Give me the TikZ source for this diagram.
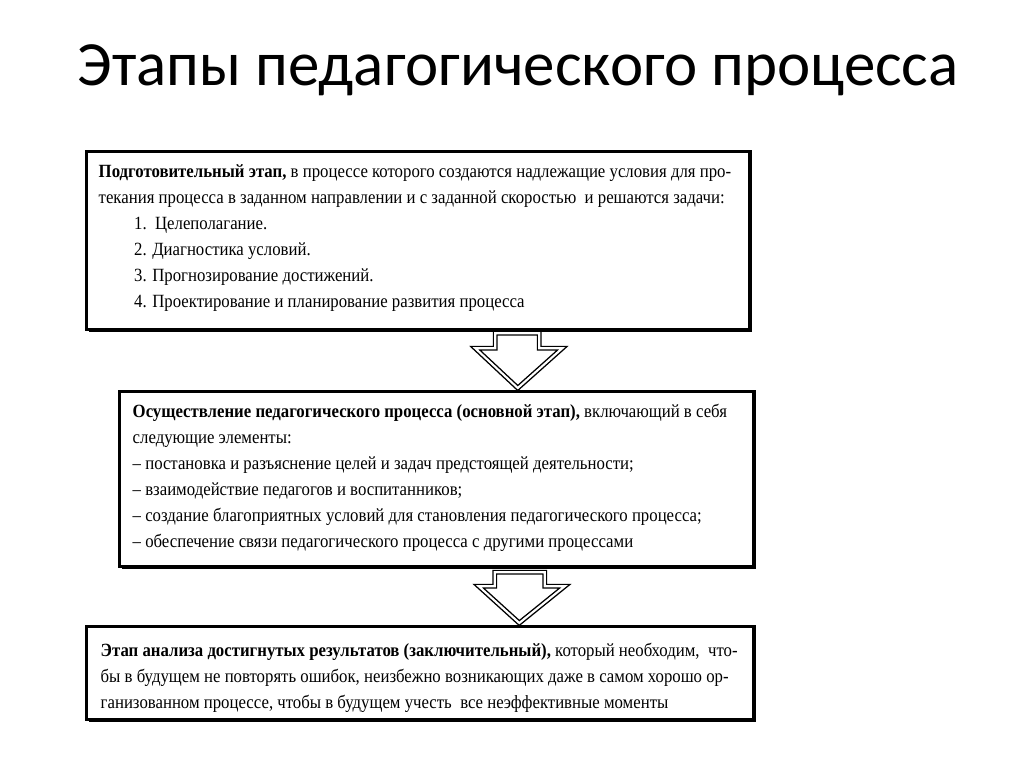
\documentclass[tikz,border=0pt]{standalone}
\usepackage{fontspec}
\setmainfont[FakeStretch=0.9]{Liberation Serif}
\newfontfamily\titlefont{Carlito}
\usetikzlibrary{positioning,calc}
\tikzset{
  stage/.style  = {draw, line width=0.9pt, rectangle, inner sep=0pt},
  shade/.style  = {fill=black},
  body/.style   = {anchor=north west, align=left, inner sep=0pt,
                   font=\fontsize{5.3pt}{7.4pt}\selectfont},
  flow/.style   = {draw, double, double distance=0.6pt, line width=0.4pt, fill=white}
}
\begin{document}
\begin{tikzpicture}[x=0.01cm,y=-0.01cm]
\useasboundingbox (0,0) rectangle (1024,767);

% titel
\node[font=\titlefont\fontsize{17.9pt}{20pt}\selectfont] (title) at (518,70) {Этапы педагогического процесса};

% schaduwen en kaders
\fill[shade] (89,154) rectangle (752,332);
\fill[shade] (122,394) rectangle (756,569);
\fill[shade] (89,629) rectangle (756,722);
\node[stage, fill=white, minimum width=6.63cm, minimum height=1.78cm, anchor=north west] (b1) at (85,150) {};
\node[stage, fill=white, minimum width=6.34cm, minimum height=1.75cm, anchor=north west] (b2) at (118,390) {};
\node[stage, fill=white, minimum width=6.67cm, minimum height=0.93cm, anchor=north west] (b3) at (85,625) {};

% pijlen tussen de kaders
\draw[flow] ($(b1.south)+(77,2)$) -- ++(0,15) -- ++(-20,0) -- ($(b2.north)+(81,-2)$)
  -- ($(b1.south)+(144,17)$) -- ++(-23,0) -- ++(0,-15) -- cycle;
\draw[flow] ($(b2.south)+(58,4)$) -- ++(0,14) -- ++(-16,0) -- ($(b3.north)+(99,-2)$)
  -- ($(b2.south)+(128,18)$) -- ++(-20,0) -- ++(0,-14) -- cycle;

% teksten
\node[body] (t1) at (98,164) {\textbf{Подготовительный этап,} в процессе которого создаются надлежащие условия для про-\\
текания процесса в заданном направлении и с заданной скоростью \ и решаются задачи:\\
\hspace*{1.9em}1.\ \ Целеполагание.\\
\hspace*{1.9em}2. Диагностика условий.\\
\hspace*{1.9em}3. Прогнозирование достижений.\\
\hspace*{1.9em}4. Проектирование и планирование развития процесса};

\node[body] (t2) at (132,403) {\textbf{Осуществление педагогического процесса (основной этап),} включающий в себя\\
следующие элементы:\\
-- постановка и разъяснение целей и задач предстоящей деятельности;\\
-- взаимодействие педагогов и воспитанников;\\
-- создание благоприятных условий для становления педагогического процесса;\\
-- обеспечение связи педагогического процесса с другими процессами};

\node[body] (t3) at (100,642) {\textbf{Этап анализа достигнутых результатов (заключительный),} который необходим, \ что-\\
бы в будущем не повторять ошибок, неизбежно возникающих даже в самом хорошо ор-\\
ганизованном процессе, чтобы в будущем учесть \ все неэффективные моменты};
\end{tikzpicture}
\end{document}
